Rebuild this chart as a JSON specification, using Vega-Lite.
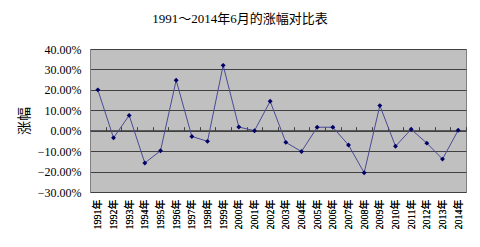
{
  "$schema": "https://vega.github.io/schema/vega-lite/v6.json",
  "autosize": {"type": "none"},
  "width": 376,
  "height": 143,
  "padding": {"left": 90, "top": 49, "right": 14, "bottom": 55},
  "background": "white",
  "title": {
    "text": "1991～2014年6月的涨幅对比表",
    "font": "Liberation Serif, Noto Sans CJK SC",
    "fontSize": 13,
    "fontWeight": "normal",
    "color": "#000000",
    "anchor": "middle",
    "dx": -38,
    "offset": 17
  },
  "config": {
    "view": {"fill": "#c0c0c0", "stroke": "#808080", "strokeWidth": 1}
  },
  "data": {
    "values": [
      {"year": "1991年", "v": 0.200},
      {"year": "1992年", "v": -0.035},
      {"year": "1993年", "v": 0.075},
      {"year": "1994年", "v": -0.158},
      {"year": "1995年", "v": -0.098},
      {"year": "1996年", "v": 0.247},
      {"year": "1997年", "v": -0.028},
      {"year": "1998年", "v": -0.052},
      {"year": "1999年", "v": 0.320},
      {"year": "2000年", "v": 0.018},
      {"year": "2001年", "v": 0.000},
      {"year": "2002年", "v": 0.144},
      {"year": "2003年", "v": -0.057},
      {"year": "2004年", "v": -0.102},
      {"year": "2005年", "v": 0.017},
      {"year": "2006年", "v": 0.017},
      {"year": "2007年", "v": -0.070},
      {"year": "2008年", "v": -0.206},
      {"year": "2009年", "v": 0.123},
      {"year": "2010年", "v": -0.076},
      {"year": "2011年", "v": 0.007},
      {"year": "2012年", "v": -0.061},
      {"year": "2013年", "v": -0.139},
      {"year": "2014年", "v": 0.002}
    ]
  },
  "encoding": {
    "x": {
      "field": "year",
      "type": "ordinal",
      "sort": null,
      "scale": {"type": "point", "padding": 0.5},
      "axis": {
        "title": null,
        "labelAngle": -90,
        "labelFont": "Liberation Serif, Noto Sans CJK SC",
        "labelFontSize": 10,
        "labelColor": "#000000",
        "labelPadding": 7,
        "ticks": false,
        "domain": false,
        "grid": false
      }
    },
    "y": {
      "field": "v",
      "type": "quantitative",
      "scale": {"domain": [-0.3, 0.4], "nice": false},
      "axis": {
        "title": "涨幅",
        "titleFont": "Noto Sans CJK SC",
        "titleFontSize": 14,
        "titleFontWeight": "normal",
        "titleColor": "#000000",
        "titlePadding": 6,
        "format": ".2%",
        "values": [-0.3, -0.2, -0.1, 0, 0.1, 0.2, 0.3, 0.4],
        "labelFont": "Liberation Serif",
        "labelFontSize": 12,
        "labelColor": "#000000",
        "labelPadding": 9,
        "ticks": false,
        "domain": true,
        "domainColor": "#808080",
        "grid": true,
        "gridColor": "#404040",
        "gridWidth": 1
      }
    }
  },
  "layer": [
    {
      "mark": {"type": "rule", "color": "#404040", "strokeWidth": 1},
      "encoding": {
        "x": {
          "field": "year",
          "type": "ordinal",
          "sort": null,
          "axis": {
            "orient": "top",
            "offset": -81.7,
            "labels": false,
            "title": null,
            "domain": false,
            "ticks": true,
            "tickSize": 4,
            "tickColor": "#404040",
            "tickOffset": 7.83,
            "grid": false
          }
        },
        "y": {"datum": 0},
        "opacity": {"value": 0}
      }
    },
    {
      "mark": {"type": "rule", "color": "#404040", "strokeWidth": 1},
      "data": {"values": [{"z": 0}]},
      "encoding": {"x": null, "y": {"field": "z", "type": "quantitative"}}
    },
    {
      "mark": {"type": "line", "color": "#4a4a96", "strokeWidth": 1}
    },
    {
      "mark": {"type": "point", "shape": "diamond", "filled": true, "color": "#000066", "size": 24, "opacity": 1}
    }
  ],
  "resolve": {"axis": {"x": "independent"}}
}
